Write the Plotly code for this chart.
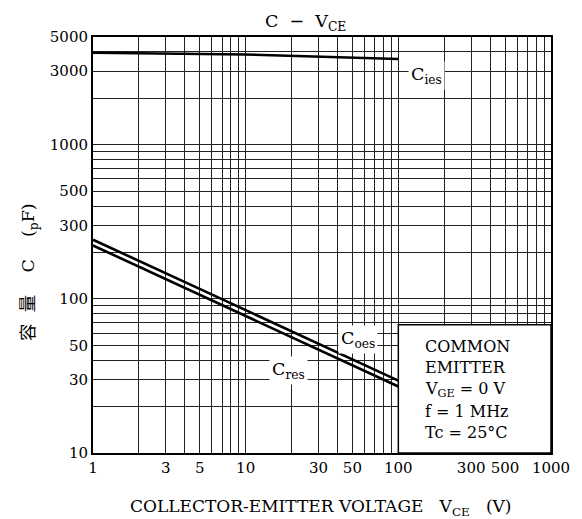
import plotly.graph_objects as go
import numpy as np

# ---- data ----
vce = [1, 10, 100]
c_ies = [3950, 3850, 3600]
c_oes = [242, 84, 29.5]
c_res = [222, 77, 27]

x_tick_vals = [1, 3, 5, 10, 30, 50, 100, 300, 500, 1000]
y_tick_vals = [10, 30, 50, 100, 300, 500, 1000, 3000, 5000]
x_grid_vals = [m * d for d in (1, 10, 100) for m in range(1, 10)] + [1000]
y_grid_vals = [m * d for d in (10, 100, 1000) for m in range(1, 10) if m * d <= 5000]

cond_lines = ["COMMON", "EMITTER", "V<sub>GE</sub> = 0 V", "f = 1 MHz", "Tc = 25°C"]

FONT = "DejaVu Serif, Noto Sans CJK SC, serif"

fig = go.Figure()
for ys in (c_ies, c_oes, c_res):
    fig.add_trace(go.Scatter(x=vce, y=ys, mode="lines",
                             line=dict(color="black", width=2.6), showlegend=False,
                             hoverinfo="skip"))

# page body has an 8px default margin
OFF = 8
W, H = 582 - OFF, 519 - OFF
# plot area in window coordinates
X0, X1, Y0, Y1 = 93, 551, 37, 453
L, R, T, B = X0 - OFF, OFF + W - X1, Y0 - OFF, OFF + H - Y1
pw, ph = X1 - X0, Y1 - Y0


def px(x):
    return (x - X0) / pw


def py(y):
    return (Y1 - y) / ph


fig.update_layout(
    width=W, height=H,
    margin=dict(l=L, r=R, t=T, b=B, autoexpand=False),
    paper_bgcolor="white", plot_bgcolor="white",
    font=dict(family=FONT, color="black", size=15),
    xaxis=dict(type="log", range=[0, 3], tickvals=x_tick_vals,
               ticktext=[str(v) for v in x_tick_vals],
               showgrid=True, gridcolor="#222", gridwidth=1,
               minor=dict(tickvals=x_grid_vals, showgrid=True, gridcolor="#222", gridwidth=1, ticks=""),
               showline=True, linecolor="black", linewidth=2, mirror=True,
               ticks="", zeroline=False, tickfont=dict(size=15)),
    yaxis=dict(type="log", range=[1, np.log10(5000)], tickvals=y_tick_vals,
               ticktext=[str(v) for v in y_tick_vals],
               showgrid=True, gridcolor="#222", gridwidth=1,
               minor=dict(tickvals=y_grid_vals, showgrid=True, gridcolor="#222", gridwidth=1, ticks=""),
               showline=True, linecolor="black", linewidth=2, mirror=True,
               ticks="", zeroline=False, tickfont=dict(size=15)),
)

# condition box (white, covers grid)
fig.add_shape(type="rect", xref="x", yref="y", x0=100, x1=1000, y0=10, y1=68,
              fillcolor="white", line=dict(color="black", width=1.5), layer="between")

annos = []


def ann(x, y, text, size, **kw):
    d = dict(x=px(x), y=py(y), xref="paper", yref="paper", text=text, showarrow=False,
             xanchor="center", yanchor="middle", font=dict(size=size))
    d.update(kw)
    annos.append(d)


ann(305, 22, "C  −  V<sub>CE</sub>", 17.5)
ann(320, 507, "COLLECTOR-EMITTER VOLTAGE   V<sub>CE</sub>   (V)", 17)
ann(29, 272, "容  量    C    (<sub>p</sub>F)", 17.5, textangle=-90)
for lbl, cx, cy in (("C<sub>ies</sub>", 426, 75), ("C<sub>oes</sub>", 358, 339), ("C<sub>res</sub>", 288, 370)):
    ann(cx, cy, lbl, 17.5, bgcolor="white", borderpad=2)
for i, t in enumerate(cond_lines):
    ann(423, 346 + 21.7 * i, t, 16, xanchor="left")
fig.update_layout(annotations=annos)

fig.write_html("out.html")
